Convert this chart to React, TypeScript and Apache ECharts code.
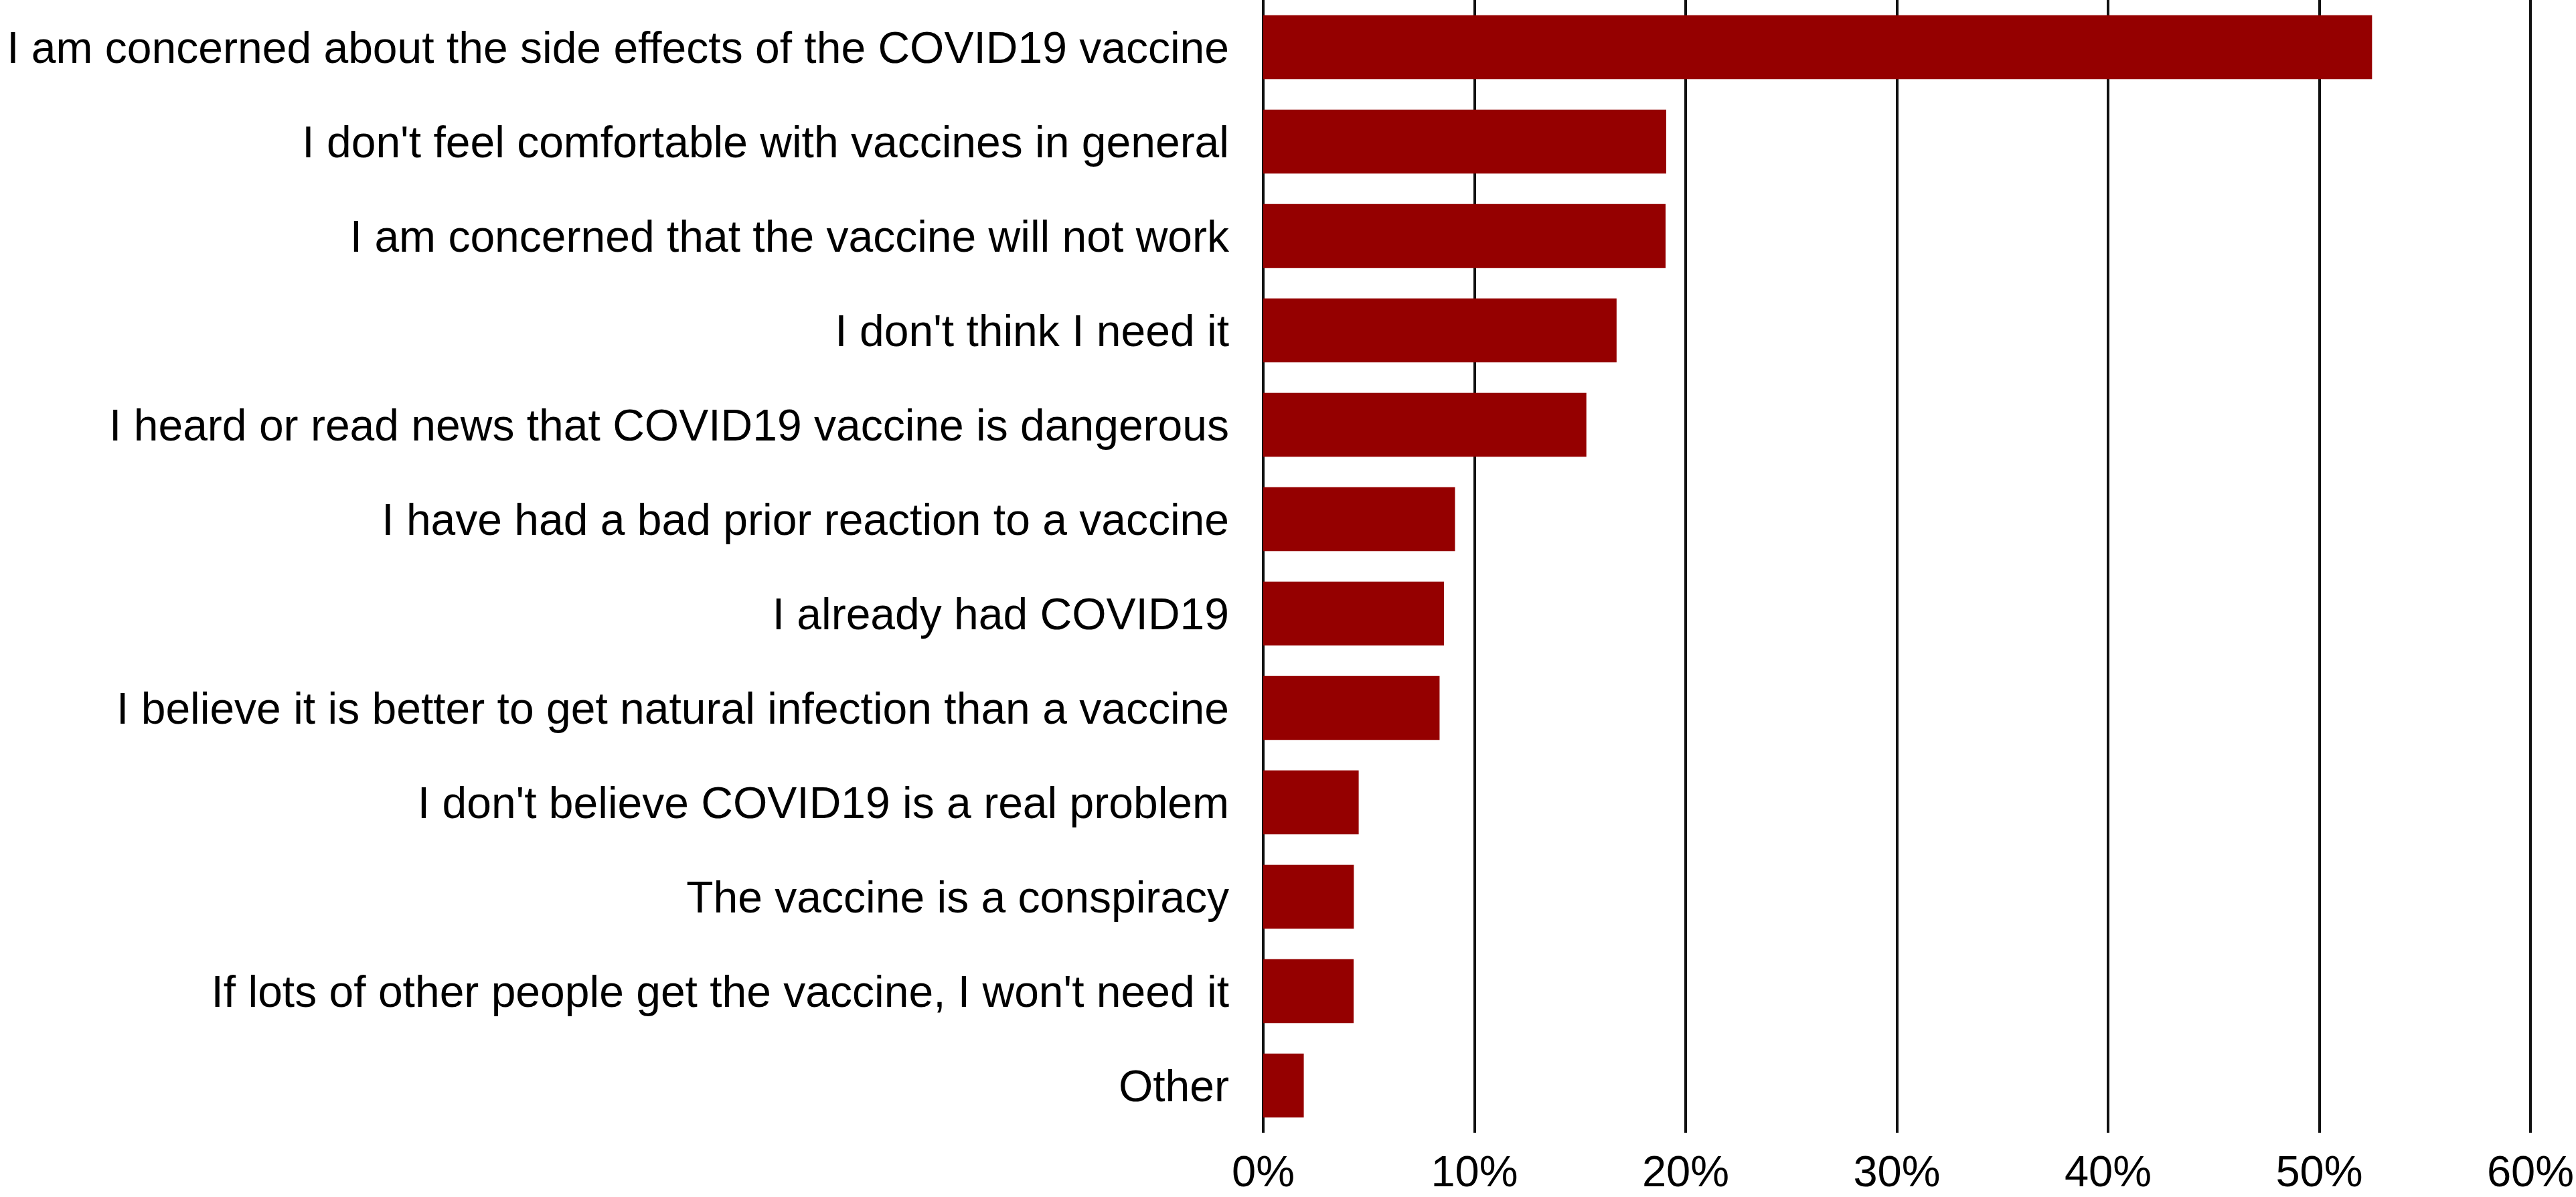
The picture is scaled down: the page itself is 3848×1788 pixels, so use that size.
import React, { useEffect, useRef } from "react";
import * as echarts from "echarts";

const categories = [
  "I am concerned about the side effects of the COVID19 vaccine",
  "I don't feel comfortable with vaccines in general",
  "I am concerned that the vaccine will not work",
  "I don't think I need it",
  "I heard or read news that COVID19 vaccine is dangerous",
  "I have had a bad prior reaction to a vaccine",
  "I already had COVID19",
  "I believe it is better to get natural infection than a vaccine",
  "I don't believe COVID19 is a real problem",
  "The vaccine is a conspiracy",
  "If lots of other people get the vaccine, I won't need it",
  "Other",
];

const values = [52.5, 19.08, 19.05, 16.73, 15.3, 9.08, 8.56, 8.35, 4.52, 4.29, 4.28, 1.92];

const xTicks = { min: 0, max: 60, interval: 10 };

const FONT = "'Liberation Sans', Arial, Helvetica, sans-serif";

export default function App() {
  const ref = useRef<HTMLDivElement>(null);
  useEffect(() => {
    if (!ref.current) return;
    const chart = echarts.init(ref.current, null, { renderer: "svg" });
    chart.setOption({
      animation: false,
      backgroundColor: "#ffffff",
      grid: { left: 1887, right: 67, top: 0, bottom: 96, containLabel: false },
      xAxis: {
        type: "value",
        min: xTicks.min,
        max: xTicks.max,
        interval: xTicks.interval,
        axisLine: { show: false },
        axisTick: { show: false },
        splitLine: { show: true, lineStyle: { color: "#111111", width: 4 } },
        axisLabel: {
          formatter: "{value}%",
          color: "#000000",
          fontSize: 65,
          lineHeight: 66,
          fontFamily: FONT,
          margin: 24,
          showMinLabel: true,
          showMaxLabel: true,
        },
      },
      yAxis: {
        type: "category",
        data: categories,
        inverse: true,
        axisLine: { show: false },
        axisTick: { show: false },
        splitLine: { show: false },
        axisLabel: {
          color: "#000000",
          fontSize: 66,
          fontFamily: FONT,
          margin: 51,
          interval: 0,
        },
      },
      series: [
        {
          type: "bar",
          data: values,
          barCategoryGap: "32.4%",
          itemStyle: { color: "#950000" },
          z: 3,
        },
      ],
    });
    return () => chart.dispose();
  }, []);
  return (
    <div
      ref={ref}
      style={{ position: "fixed", left: 0, top: 0, width: 3848, height: 1788 }}
    />
  );
}
